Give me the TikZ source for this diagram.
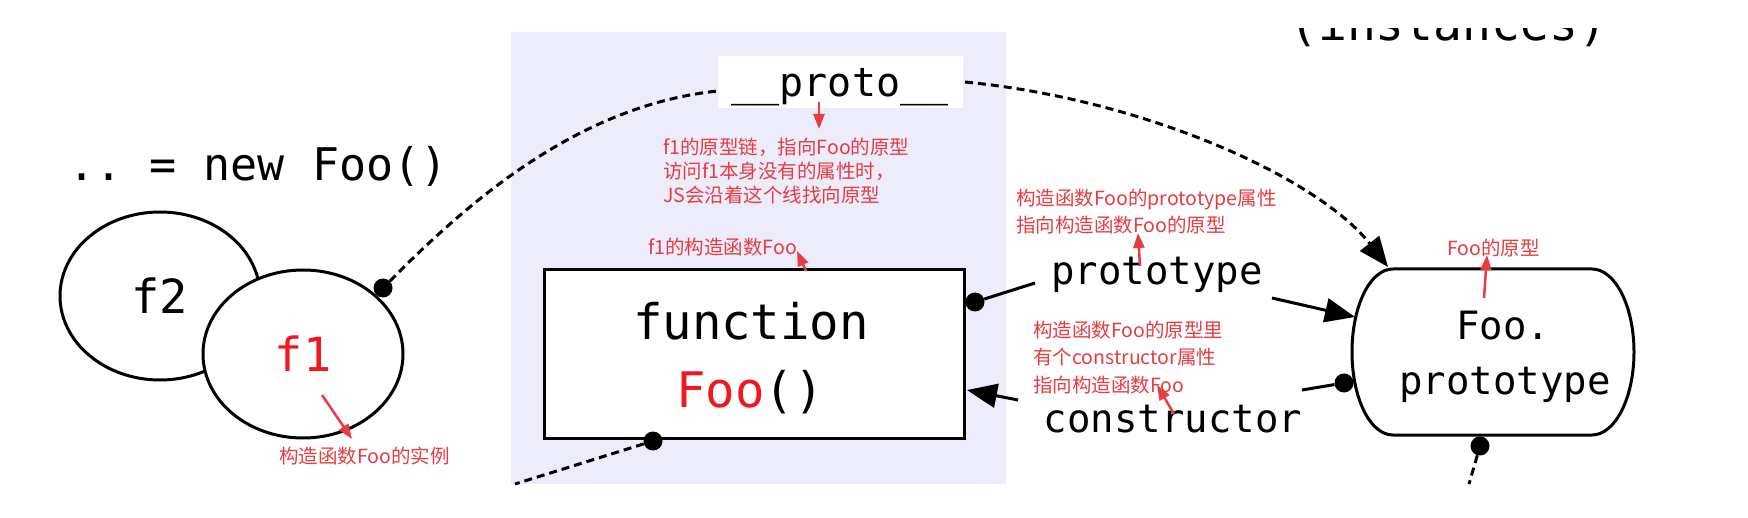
\documentclass[tikz,border=0pt]{standalone}
\usepackage{fontspec}
\setmainfont{DejaVu Sans}
\setmonofont{DejaVu Sans Mono}
\newfontfamily\cjk{Noto Sans CJK SC}
\usetikzlibrary{arrows.meta,shapes.geometric}
\definecolor{lav}{RGB}{236,236,250}
\definecolor{annred}{RGB}{230,60,66}
\definecolor{fred}{RGB}{238,24,30}
\tikzset{
  mono/.style={inner sep=0pt, font=\fontsize{39}{47}\selectfont\ttfamily},
  ann/.style={inner sep=0pt, text=annred, align=left, anchor=west},
  dotc/.style={circle, fill=black, minimum size=19pt, inner sep=0pt},
  dashc/.style={line width=3pt, dash pattern=on 8pt off 5pt},
  solidc/.style={line width=3pt},
  arr/.style={-{Triangle[length=30pt,width=24pt]}},
  redarr/.style={draw=annred, line width=2.5pt, -{Triangle[length=15pt,width=11pt]}},
}
\begin{document}
\begin{tikzpicture}[x=1pt,y=-1pt]
\useasboundingbox (0,0) rectangle (1748,518);
\fill[white] (0,0) rectangle (1748,518);
% lavender panel
\fill[lav] (511,32) rectangle (1006,484);

% cut-off heading
\begin{scope}
\clip (1200,29) rectangle (1748,90);
\node[anchor=base west, inner sep=0pt, font=\fontsize{48}{56}\selectfont\ttfamily] (inst) at (1289,41) {(instances)};
\end{scope}

% __proto__ box
\node[fill=white, minimum width=245pt, minimum height=52pt, inner sep=0pt] (proto) at (840.5,82) {};
\node[mono, font=\fontsize{40}{48}\selectfont\ttfamily, anchor=base] (prototxt) at (840,97) {\_\_proto\_\_};

% new Foo()
\node[inner sep=0pt, anchor=base west, font=\fontsize{45}{52}\selectfont\ttfamily] (newfoo) at (68,181) {.. = new Foo()};

% instances
\node[draw, ellipse, line width=3pt, fill=white, minimum width=200pt, minimum height=168pt, inner sep=0pt,
      font=\fontsize{47}{52}\selectfont\ttfamily] (f2) at (160,296) {f2};
\node[draw, ellipse, line width=3pt, fill=white, minimum width=200pt, minimum height=168pt, inner sep=0pt,
      font=\fontsize{47}{52}\selectfont\ttfamily, text=fred] (f1) at (303,354) {f1};

% function Foo()
\node[draw, line width=3pt, fill=white, minimum width=420pt, minimum height=168pt, inner sep=0pt] (fn) at (754,354) {};
\node[mono, font=\fontsize{49}{56}\selectfont\ttfamily, anchor=base] (fntxt1) at (751,340) {function};
\node[mono, font=\fontsize{49}{56}\selectfont\ttfamily, anchor=base] (fntxt2) at (750,407) {\textcolor{fred}{Foo}()};

% Foo.prototype
\draw[line width=3pt, fill=white] (1393,269) -- (1592,269)
   .. controls (1615,269) and (1634,306) .. (1634,352)
   .. controls (1634,398) and (1615,435) .. (1592,435) -- (1393,435)
   .. controls (1370,435) and (1352,398) .. (1352,352)
   .. controls (1352,306) and (1370,269) .. (1393,269);
\node[mono, anchor=base] (fp1) at (1503,340) {Foo.};
\node[mono, anchor=base] (fp2) at (1505,395) {prototype};

% labels
\node[mono, anchor=base] (plbl) at (1157,285) {prototype};
\node[mono, anchor=base] (clbl) at (1173,432) {constructor};

% dots
\node[dotc] (d1) at (383,288) {};
\node[dotc] (d2) at (975,302) {};
\node[dotc] (d3) at (653,441) {};
\node[dotc] (d4) at (1344,383) {};
\node[dotc] (d5) at (1480,446) {};

% free ends
\coordinate (pl) at (718,91);
\coordinate (pr) at (965,82);
\coordinate (fpTL) at (1388,267);
\coordinate (pA) at (1035,283);
\coordinate (pB) at (1272,298);
\coordinate (fpL) at (1355,317);
\coordinate (pC) at (1302,390);
\coordinate (pD) at (1018,400);
\coordinate (fnR) at (967,390);
\coordinate (pE) at (515,484);
\coordinate (pF) at (1469,484);

% connectors
\draw[dashc] (d1) .. controls (470,200) and (580,105) .. (pl);
\draw[dashc, arr] (pr) .. controls (1150,100) and (1320,180) .. (fpTL);
\draw[solidc] (d2) -- (pA);
\draw[solidc, arr] (pB) -- (fpL);
\draw[solidc] (d4) -- (pC);
\draw[solidc, arr] (pD) -- (fnR);
\draw[dashc] (d3) -- (pE);
\draw[dashc] (d5) -- (pF);

% annotations
\node[ann, font=\fontsize{19.5}{24}\selectfont\cjk] (annA) at (663,171)
  {f1的原型链，指向Foo的原型\\访问f1本身没有的属性时，\\JS会沿着这个线找向原型};
\node[ann, font=\fontsize{19.5}{24}\selectfont\cjk] (annB) at (648,247) {f1的构造函数Foo};
\node[ann, font=\fontsize{19.5}{27}\selectfont\cjk] (annC) at (1016,211.5)
  {构造函数Foo的prototype属性\\指向构造函数Foo的原型};
\node[ann, font=\fontsize{19.5}{24}\selectfont\cjk] (annD) at (1447,248) {Foo的原型};
\node[ann, font=\fontsize{19.5}{27.5}\selectfont\cjk] (annE) at (1033,357.5)
  {构造函数Foo的原型里\\有个constructor属性\\指向构造函数Foo};
\node[ann, font=\fontsize{19.5}{24}\selectfont\cjk] (annF) at (279,456) {构造函数Foo的实例};

\coordinate (r1a) at (819,102);  \coordinate (r1b) at (819,129);
\coordinate (r2a) at (806,271);  \coordinate (r2b) at (797,251);
\coordinate (r3a) at (1140,266); \coordinate (r3b) at (1138,233);
\coordinate (r4a) at (1484,298); \coordinate (r4b) at (1487,255);
\coordinate (r5a) at (1174,414); \coordinate (r5b) at (1157,385);
\coordinate (r6a) at (322,395);  \coordinate (r6b) at (352,439);
\draw[redarr] (r1a) -- (r1b);
\draw[redarr] (r2a) -- (r2b);
\draw[redarr] (r3a) -- (r3b);
\draw[redarr] (r4a) -- (r4b);
\draw[redarr] (r5a) -- (r5b);
\draw[redarr] (r6a) -- (r6b);
\end{tikzpicture}
\end{document}
